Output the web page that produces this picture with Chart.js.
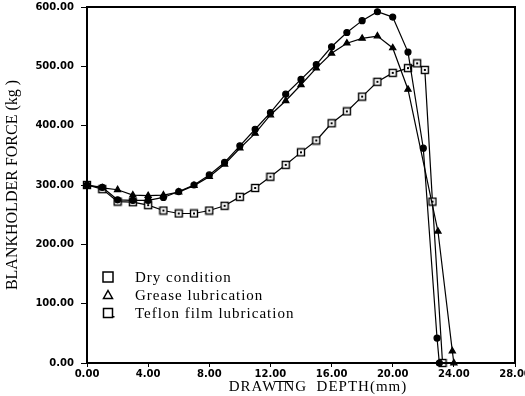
<!DOCTYPE html>
<html><head><meta charset="utf-8">
<script src="https://cdn.jsdelivr.net/npm/chart.js@4.4.1/dist/chart.umd.min.js"></script>
<style>html,body{margin:0;padding:0;background:#fff}#wrap{width:525px;height:396px}</style>
</head><body><div id="wrap"><canvas id="c" width="525" height="396"></canvas></div>
<script>
// ---- data ----
const seriesNames = ['Dry condition', 'Grease lubrication', 'Teflon film lubrication'];
const dryX = [0,1,2,3,4,5,6,7,8,9,10,11,12,13,14,15,16,17,18,19,20,21,22,22.9,23.05];
const dryY = [300,296,275,274,274,279,289,300,317,338,366,394,422,453,478,503,533,557,577,592,583,524,362,42,0];
const greaseX = [0,1,2,3,4,5,6,7,8,9,10,11,12,13,14,15,16,17,18,19,20,21,22.96,23.9,24];
const greaseY = [300,295,292,283,282,283,288,299,314,335,362,387,418,442,469,497,522,539,547,551,531,461,222,20,0];
const teflonX = [0,1,2,3,4,5,6,7,8,9,10,11,12,13,14,15,16,17,18,19,20,21,21.6,22.1,22.6,23.26];
const teflonY = [300,293,272,271,266,257,252,252,257,265,280,295,314,334,355,375,404,424,449,474,489,497,505,494,272,0];
const xTitle = 'DRAWING  DEPTH(mm)';
const yTitle = 'BLANKHOLDER FORCE (kg )';
const xMin = 0, xMax = 28, xStep = 4;
const yMin = 0, yMax = 600, yStep = 100;

function pts(xs, ys){ return xs.map((x,i)=>({x:x, y:ys[i]})); }

function squareDot(){
  const c = document.createElement('canvas'); c.width = 10; c.height = 10;
  const g = c.getContext('2d');
  g.fillStyle = '#fff'; g.fillRect(1,1,8,8);
  g.strokeStyle = '#000'; g.lineWidth = 1.4; g.strokeRect(1.5,1.5,7,7);
  g.fillStyle = '#000'; g.fillRect(4,4,2,2);
  return c;
}
const sqImg = squareDot();

const decor = {
  id: 'decor',
  afterDraw(chart){
    const ctx = chart.ctx, a = chart.chartArea;
    ctx.save();
    ctx.strokeStyle = '#000'; ctx.lineWidth = 2;
    ctx.strokeRect(a.left, a.top, a.right - a.left, a.bottom - a.top);
    ctx.fillStyle = '#000';
    ctx.textAlign = 'center'; ctx.textBaseline = 'middle';
    ctx.font = '15px "Liberation Serif"';
    ctx.letterSpacing = '1px';
    ctx.fillText(xTitle, 318, 387);
    // small overline artifact between words
    ctx.lineWidth = 1; ctx.beginPath(); ctx.moveTo(275, 381.5); ctx.lineTo(293, 381.5); ctx.stroke();
    ctx.save();
    ctx.translate(13, (a.top + a.bottom) / 2);
    ctx.rotate(-Math.PI / 2);
    ctx.font = '16px "Liberation Serif"';
    ctx.letterSpacing = '0px';
    ctx.fillText(yTitle, 0, 0);
    ctx.restore();
    // legend
    const mx = a.left + 21, rows = [a.top + 270, a.top + 288, a.top + 306];
    ctx.lineWidth = 1.5; ctx.strokeStyle = '#000';
    ctx.strokeRect(mx - 5, rows[0] - 5, 10, 10);
    ctx.beginPath(); ctx.moveTo(mx, rows[1] - 4.5); ctx.lineTo(mx + 4.5, rows[1] + 3.5); ctx.lineTo(mx - 4.5, rows[1] + 3.5); ctx.closePath(); ctx.stroke();
    ctx.strokeRect(mx - 4.5, rows[2] - 4.5, 9, 9);
    ctx.fillRect(mx + 5, rows[2] + 3, 1.5, 1.5);
    ctx.textAlign = 'left';
    ctx.font = '15px "Liberation Serif"';
    ctx.letterSpacing = '1px';
    seriesNames.forEach((n, i) => ctx.fillText(n, a.left + 48, rows[i] + 1));
    ctx.restore();
  }
};

const common = {borderColor:'#000', borderWidth:1.2, pointBorderColor:'#000', pointBackgroundColor:'#000', tension:0, clip:false, fill:false};
new Chart(document.getElementById('c'), {
  type: 'line',
  data: { datasets: [
    Object.assign({label: seriesNames[0], data: pts(dryX, dryY), pointStyle:'circle', pointRadius:3}, common),
    Object.assign({label: seriesNames[1], data: pts(greaseX, greaseY), pointStyle:'triangle', pointRadius:3.6}, common),
    Object.assign({label: seriesNames[2], data: pts(teflonX, teflonY), pointStyle: sqImg, pointRadius:5}, common)
  ]},
  options: {
    responsive:false, animation:false, devicePixelRatio:1,
    layout:{padding:{top:7, right:10, left:0, bottom:0}},
    plugins:{legend:{display:false}, tooltip:{enabled:false}},
    scales:{
      x:{type:'linear', min:xMin, max:xMax,
        ticks:{stepSize:xStep, color:'#000', padding:1, maxRotation:0, font:{family:'DejaVu Sans', weight:'bold', size:10}, callback:v=>v.toFixed(2)},
        grid:{drawOnChartArea:false, drawTicks:true, tickLength:4, color:'#000'},
        border:{display:true, color:'#000', width:2},
        afterFit(s){ s.height = 33; s.paddingRight = 0; s.paddingLeft = 0; }
      },
      y:{type:'linear', min:yMin, max:yMax,
        ticks:{stepSize:yStep, color:'#000', padding:7, font:{family:'DejaVu Sans', weight:'bold', size:10}, callback:v=>v.toFixed(2)},
        grid:{drawOnChartArea:false, drawTicks:true, tickLength:6, color:'#000'},
        border:{display:true, color:'#000', width:2},
        afterFit(s){ s.width = 87; s.paddingTop = 0; s.paddingBottom = 0; }
      }
    }
  },
  plugins:[decor]
});
</script></body></html>
